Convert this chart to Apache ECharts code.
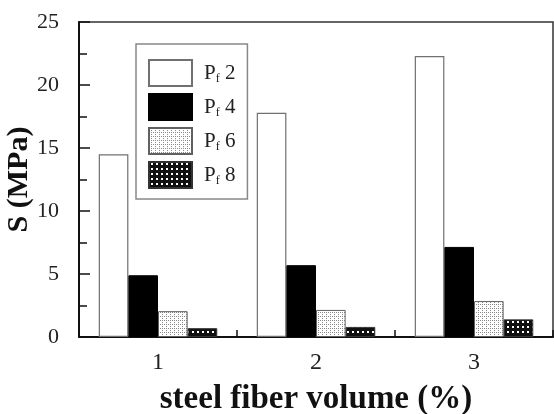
<!DOCTYPE html>
<html>
<head>
<meta charset="utf-8">
<script src="https://cdn.jsdelivr.net/npm/echarts@6/dist/echarts.min.js"></script>
<style>html,body{margin:0;padding:0;background:#fff;}#c{width:554px;height:414px;}</style>
</head>
<body>
<div id="c"></div>
<script>
var categories = ['1', '2', '3'];
var seriesNames = ['2', '4', '6', '8'];
var pf2 = [14.5, 17.8, 22.3];
var pf4 = [4.9, 5.7, 7.15];
var pf6 = [2.05, 2.15, 2.85];
var pf8 = [0.7, 0.8, 1.4];
var yTicks = [0, 5, 10, 15, 20, 25];

function makePattern(size, bg, fg, rects) {
  var cv = document.createElement('canvas');
  cv.width = size; cv.height = size;
  var ctx = cv.getContext('2d');
  ctx.fillStyle = bg; ctx.fillRect(0, 0, size, size);
  ctx.fillStyle = fg;
  rects.forEach(function (r) { ctx.fillRect(r[0], r[1], r[2], r[3]); });
  return { image: cv, repeat: 'repeat' };
}
var dotPattern = makePattern(4, '#ffffff', '#8a8a8a', [[0, 0, 1, 1], [2, 2, 1, 1], [2, 0, 1, 1]]);
var checkPattern = makePattern(5, '#111111', '#ffffff', [[2, 1, 2, 2]]);

var serif = '"Liberation Serif", "DejaVu Serif", serif';
var chart = echarts.init(document.getElementById('c'), null, { renderer: 'canvas' });

var styles = [
  { color: '#ffffff', borderColor: '#707070', borderWidth: 1.2 },
  { color: '#000000', borderColor: '#000000', borderWidth: 1 },
  { color: dotPattern, borderColor: '#606060', borderWidth: 1 },
  { color: checkPattern, borderColor: '#333333', borderWidth: 1 }
];
var data = [pf2, pf4, pf6, pf8];

chart.setOption({
  animation: false,
  backgroundColor: '#ffffff',
  grid: { left: 79, right: 1, top: 22, bottom: 77, containLabel: false, outerBoundsMode: 'none', show: true, borderColor: '#333', borderWidth: 1.5, backgroundColor: 'transparent' },
  legend: {
    orient: 'vertical', left: 136, top: 44,
    data: seriesNames,
    itemWidth: 43, itemHeight: 26, itemGap: 6,
    padding: [15, 12, 10, 12],
    borderColor: '#888', borderWidth: 1.5,
    backgroundColor: '#fff',
    icon: 'rect',
    formatter: function (n) { return '{g|}{p|P}{s|f}{p| ' + n + '}'; },
    textStyle: {
      color: '#222', fontFamily: serif, fontSize: 20,
      rich: {
        g: { width: 7 },
        p: { fontSize: 21, fontFamily: serif, color: '#222', lineHeight: 26 },
        s: { fontSize: 12, fontFamily: serif, color: '#222', lineHeight: 26, padding: [12, 0, 0, 0] }
      }
    }
  },
  xAxis: {
    type: 'category', data: categories,
    name: 'steel fiber volume (%)', nameLocation: 'middle', nameGap: 46,
    nameMoveOverlap: false,
    nameTextStyle: { fontFamily: serif, fontSize: 33, fontWeight: 'bold', color: '#111' },
    axisLine: { lineStyle: { color: '#111', width: 2 } },
    axisTick: { show: true, inside: true, length: 7, alignWithLabel: false, lineStyle: { color: '#111', width: 1.5 } },
    axisLabel: { fontFamily: serif, fontSize: 24, color: '#222', margin: 14 }
  },
  yAxis: {
    type: 'value', min: yTicks[0], max: yTicks[yTicks.length - 1], interval: 5,
    name: 'S (MPa)', nameLocation: 'middle', nameGap: 45,
    nameMoveOverlap: false,
    nameTextStyle: { fontFamily: serif, fontSize: 30, fontWeight: 'bold', color: '#111' },
    axisLine: { show: true, lineStyle: { color: '#111', width: 2 } },
    axisTick: { show: true, inside: true, length: 11, lineStyle: { color: '#111', width: 1.5 } },
    minorTick: { show: true, splitNumber: 2, length: 8, lineStyle: { color: '#111', width: 1.5 } },
    splitLine: { show: false },
    axisLabel: { fontFamily: serif, fontSize: 22, color: '#222', margin: 20 }
  },
  series: seriesNames.map(function (n, i) {
    return {
      name: n, type: 'bar', data: data[i],
      barGap: '0%', barCategoryGap: '25%',
      itemStyle: styles[i]
    };
  })
});
</script>
</body>
</html>
